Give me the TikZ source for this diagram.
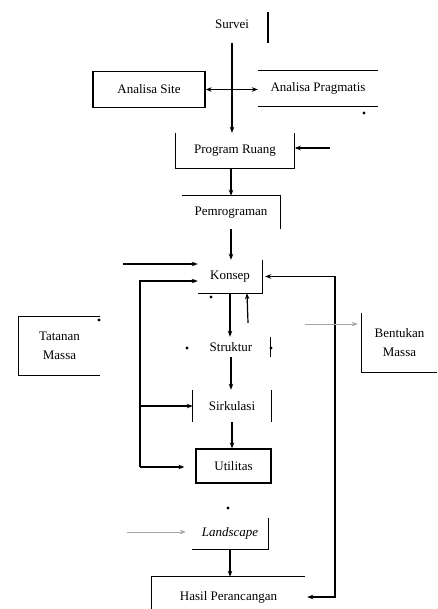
\documentclass[tikz,border=0pt]{standalone}
\usepackage{fontspec}
\setmainfont{Liberation Serif}
\usetikzlibrary{arrows.meta,positioning,calc}
\tikzset{
  >={Stealth[length=6pt,width=4.5pt]},
  lbl/.style={align=center,font=\fontsize{13}{19}\selectfont,inner sep=0pt},
  box/.style={lbl,draw,line width=1.2pt},
  wire/.style={line width=1.2pt},
  faint/.style={line width=0.6pt,gray!70}
}

\begin{document}
\begin{tikzpicture}[x=1pt,y=-1pt]
\useasboundingbox (0,0) rectangle (437,609);
\node[lbl,minimum height=38](sv)at(232,24){Survei};
\node[box,minimum width=112,minimum height=36](as)at(149,89.5){Analisa Site};
\node[lbl,minimum width=120,minimum height=35](ap)at(318,88.5){Analisa Pragmatis};
\node[lbl,minimum width=119,minimum height=35](pr)at(235,150.5){Program Ruang};
\node[lbl,minimum width=98,minimum height=33](pm)at(231,212.5){Pemrograman};
\node[lbl,minimum width=64,minimum height=33](ks)at(230,276.5){Konsep};
\node[lbl,minimum width=78,minimum height=20](st)at(231,347){Struktur};
\node[lbl,minimum width=78,minimum height=32](sk)at(232,406){Sirkulasi};
\node[box,minimum width=75,minimum height=34](ut)at(233.5,466){Utilitas};
\node[lbl,minimum width=76,minimum height=31,font=\fontsize{13}{19}\selectfont\itshape](ls)at(230,533.5){Landscape};
\node[lbl,minimum width=153,minimum height=40](hp)at(228.5,597){Hasil Perancangan};
\node[lbl,minimum width=81,minimum height=58](tm)at(59.5,346){Tatanan\\Massa};
\node[lbl,minimum width=75,minimum height=59](bm)at(399.5,342.5){Bentukan\\Massa};
\coordinate(prin)at(330,148);
\coordinate(ksin)at(123,264);
\coordinate(lpt)at(140,281);
\coordinate(lpb)at(140,467);
\coordinate(rb)at(335,597);
\coordinate(bmin)at(305,324);
\coordinate(lsin)at(127,532);
% open box sides
\draw[wire](268,12)--(268,43);
\draw[wire](ap.north west)--(ap.north east)(ap.south west)--(ap.south east);
\draw[wire](pr.north west)|-(pr.south east)--(pr.north east);
\draw[wire](pm.north west)--(pm.north east)--(pm.south east);
\draw[wire](ks.north east)|-(ks.south west);
\draw[wire](st.north east)--(st.south east);
\draw[wire](sk.north west)--(sk.south west)(sk.north east)--(sk.south east);
\draw[wire](ls.north east)|-(ls.south west);
\draw[wire](hp.south west)|-(hp.north east);
\draw[wire](tm.north east)--(tm.north west)--(tm.south west)--(tm.south east);
\draw[wire](bm.north west)|-(bm.south east);
% main flow
\draw[wire,<->](as.east)--(as.east -| ap.west);
\draw[wire,->](sv.south)--(sv.south |- pr.north);
\draw[wire,->](prin)--(prin -| pr.east);
\draw[wire,->](pm.north |- pr.south)--(pm.north);
\draw[wire,->](pm.south)--(pm.south |- ks.north);
\draw[wire,->](ks.south)--(ks.south |- st.north);
\draw[wire,->]($(st.north)+(17,-14)$)--($(ks.south)+(17,0)$);
\draw[wire,->](st.south)--(st.south |- sk.north);
\draw[wire,->](sk.south)--(sk.south |- ut.north);
\draw[wire,->](ls.south)--(ls.south |- hp.north);
% feedback lines
\draw[wire,->](ksin)--(ksin -| ks.west);
\draw[wire,->](lpb)--(lpt)--(lpt -| ks.west);
\draw[wire,->](lpt |- sk.west)--(sk.west);
\draw[wire,->](lpb)--($(lpb -| ut.west)+(-11,0)$);
\draw[wire,<->]($(ks.east)+(3,0)$)-|(rb)--($(rb -| hp.east)+(2,0)$);
\draw[faint,->](bmin)--($(bmin -| bm.west)+(-4,0)$);
\draw[faint,->](lsin)--($(lsin -| ls.west)+(-6,0)$);
% stray marks
\foreach \x/\y in {211/297,187/348,228/508,271/348,364/113,99/320}
  \fill(\x,\y)circle(1.6);
\end{tikzpicture}
\end{document}
